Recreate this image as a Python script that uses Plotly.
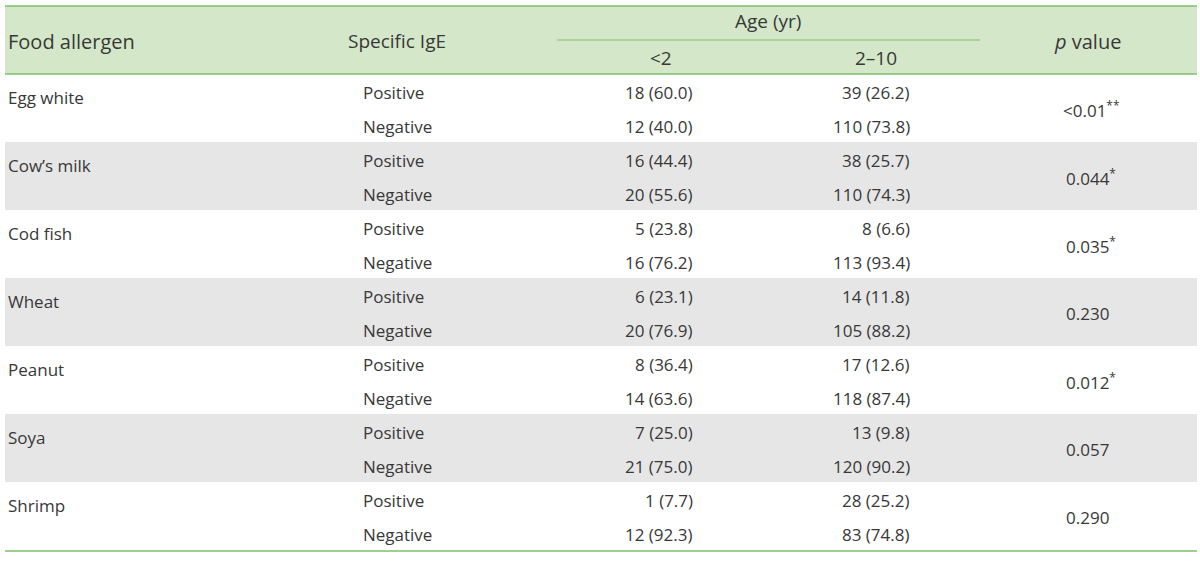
import plotly.graph_objects as go

allergens = ["Egg white", "Cow’s milk", "Cod fish", "Wheat", "Peanut", "Soya", "Shrimp"]
ige_levels = ["Positive", "Negative"]
under2 = [["18 (60.0)", "12 (40.0)"], ["16 (44.4)", "20 (55.6)"], ["5 (23.8)", "16 (76.2)"],
          ["6 (23.1)", "20 (76.9)"], ["8 (36.4)", "14 (63.6)"], ["7 (25.0)", "21 (75.0)"],
          ["1 (7.7)", "12 (92.3)"]]
age2to10 = [["39 (26.2)", "110 (73.8)"], ["38 (25.7)", "110 (74.3)"], ["8 (6.6)", "113 (93.4)"],
            ["14 (11.8)", "105 (88.2)"], ["17 (12.6)", "118 (87.4)"], ["13 (9.8)", "120 (90.2)"],
            ["28 (25.2)", "83 (74.8)"]]
p_values = ["<0.01", "0.044", "0.035", "0.230", "0.012", "0.057", "0.290"]
p_marks = ["**", "*", "*", "", "*", "", ""]
headers = ["Food allergen", "Specific IgE", "Age (yr)", "<2", "2–10", "<i>p</i> value"]

FONT = "Open Sans"
TXT = "#383838"
GREEN_BG = "#d4e8c9"
GREEN_LINE = "#7cbf69"
GRAY_BG = "#e6e6e6"

fig = go.Figure()
shapes = []
ann = []

X0, X1 = 5, 1197
HEAD_TOP, HEAD_BOT = 6, 74
ROW_H = 68

# header background
shapes.append(dict(type="rect", xref="x", yref="y", x0=X0, x1=X1, y0=HEAD_TOP, y1=HEAD_BOT,
                   fillcolor=GREEN_BG, line=dict(width=0), layer="below"))
for i, name in enumerate(allergens):
    top = HEAD_BOT + i * ROW_H
    if i % 2 == 1:
        shapes.append(dict(type="rect", xref="x", yref="y", x0=X0, x1=X1, y0=top, y1=top + ROW_H,
                           fillcolor=GRAY_BG, line=dict(width=0), layer="below"))
    ann.append(dict(x=6, y=top + 23, text=name, xanchor="left"))
    for j, lvl in enumerate(ige_levels):
        yy = top + 18 + j * 34
        ann.append(dict(x=361, y=yy, text=lvl, xanchor="left"))
        ann.append(dict(x=695, y=yy, text=under2[i][j], xanchor="right"))
        ann.append(dict(x=912, y=yy, text=age2to10[i][j], xanchor="right"))
    ptxt = p_values[i] + (f"<sup>{p_marks[i]}</sup>" if p_marks[i] else "")
    ann.append(dict(x=1087 + (4 if p_marks[i] else 0), y=top + 35, text=ptxt, xanchor="center"))

# lines
for y, w in [(HEAD_TOP, 1.3), (HEAD_BOT, 1.3), (HEAD_BOT + 7 * ROW_H + 1, 1.3)]:
    shapes.append(dict(type="line", xref="x", yref="y", x0=X0, x1=X1, y0=y, y1=y,
                       line=dict(color=GREEN_LINE, width=w)))
shapes.append(dict(type="line", xref="x", yref="y", x0=557, x1=980, y0=40, y1=40,
                   line=dict(color=GREEN_LINE, width=1.2)))

hs = 20
ann.append(dict(x=6, y=41, text=headers[0], xanchor="left", font=dict(size=hs)))
ann.append(dict(x=397, y=41, text=headers[1], xanchor="center", font=dict(size=hs - 1)))
ann.append(dict(x=768, y=21, text=headers[2], xanchor="center", font=dict(size=hs - 1)))
ann.append(dict(x=661, y=58, text=headers[3], xanchor="center", font=dict(size=hs - 1)))
ann.append(dict(x=876, y=58, text=headers[4], xanchor="center", font=dict(size=hs - 1)))
ann.append(dict(x=1087, y=41, text=headers[5], xanchor="center", font=dict(size=hs)))

for a in ann:
    a.setdefault("font", dict(size=17))
    a["font"] = dict(family=FONT, color=TXT, **a["font"])
    a.update(xref="x", yref="y", showarrow=False, yanchor="middle")

fig.update_layout(
    width=1200, height=561, margin=dict(l=0, r=0, t=0, b=0),
    paper_bgcolor="white", plot_bgcolor="white",
    xaxis=dict(range=[0, 1200], visible=False, fixedrange=True),
    yaxis=dict(range=[561, 0], visible=False, fixedrange=True),
    shapes=shapes, annotations=ann, showlegend=False,
)
fig.write_html("out.html", config={"displayModeBar": False},
               post_script="document.body.style.margin='0';document.body.style.overflow='hidden';")
